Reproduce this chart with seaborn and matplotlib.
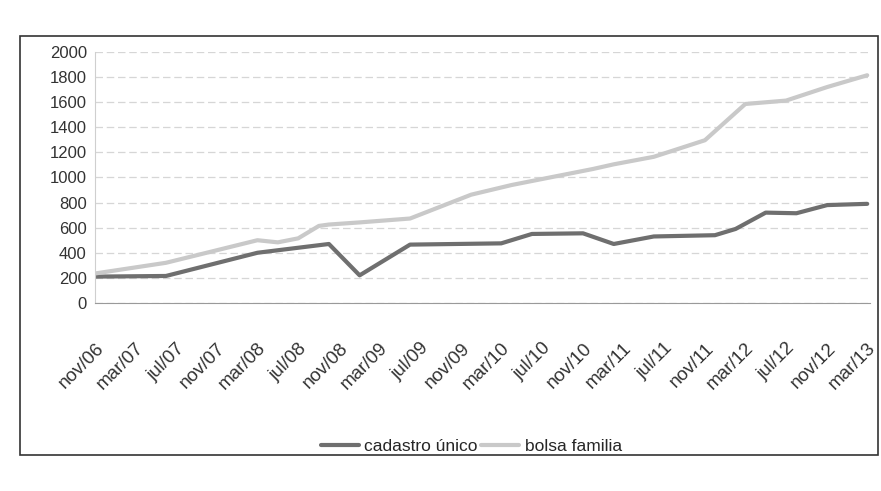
import pandas as pd
import matplotlib
matplotlib.use("Agg")
import matplotlib.pyplot as plt
from matplotlib.patches import Rectangle
import seaborn as sns


# DADOS (mes, valor)
############################################################################################
cadastro_meses = ["2006-11", "2007-06", "2008-03", "2008-07", "2008-10", "2009-01",
                  "2009-06", "2010-03", "2010-06", "2010-11", "2011-02", "2011-06",
                  "2011-12", "2012-02", "2012-05", "2012-08", "2012-11", "2013-03"]
cadastro_valores = [210, 215, 400, 440, 470, 220,
                    465, 475, 550, 555, 470, 530,
                    540, 590, 720, 715, 780, 790]

bolsa_meses = ["2006-11", "2007-06", "2008-03", "2008-05", "2008-07", "2008-09",
               "2008-10", "2009-01", "2009-06", "2009-12", "2010-04", "2010-12",
               "2011-02", "2011-06", "2011-11", "2012-03", "2012-07", "2012-11",
               "2013-03"]
bolsa_valores = [235, 320, 500, 483, 515, 614,
                 625, 642, 673, 863, 940, 1068,
                 1105, 1165, 1297, 1586, 1613, 1721,
                 1815]

rotulos_x = ["nov/06", "mar/07", "jul/07", "nov/07", "mar/08", "jul/08", "nov/08",
             "mar/09", "jul/09", "nov/09", "mar/10", "jul/10", "nov/10", "mar/11",
             "jul/11", "nov/11", "mar/12", "jul/12", "nov/12", "mar/13"]
valores_y = list(range(0, 2001, 200))

series = ["cadastro único", "bolsa familia"]
cores = {"cadastro único": "#6f6f6f", "bolsa familia": "#c9c9c9"}
############################################################################################

df = pd.concat([
    pd.DataFrame({"mes": pd.to_datetime(cadastro_meses), "valor": cadastro_valores,
                  "serie": series[0]}),
    pd.DataFrame({"mes": pd.to_datetime(bolsa_meses), "valor": bolsa_valores,
                  "serie": series[1]}),
])

sns.set_style("white")
plt.rcParams["font.family"] = ["Liberation Sans", "DejaVu Sans"]

fig = plt.figure(figsize=(8.81, 4.91), dpi=100)
ax = fig.add_axes([0.108, 0.383, 0.879, 0.511])

sns.lineplot(data=df, x="mes", y="valor", hue="serie", hue_order=series,
             palette=cores, linewidth=3, legend=False, ax=ax)

# grade e eixos
pos_x = pd.date_range("2006-11-01", "2013-03-01", freq="4MS")
ax.set_xticks(pos_x)
ax.set_xticklabels(rotulos_x, rotation=45, ha="right", rotation_mode="anchor",
                   fontsize=13.5, color="#333333")
ax.set_yticks(valores_y)
ax.set_yticklabels([str(v) for v in valores_y], fontsize=12, color="#333333")
ax.set_xlim(pd.Timestamp("2006-11-01"), pd.Timestamp("2013-03-08"))
ax.set_ylim(0, 2000)
ax.set_xlabel("")
ax.set_ylabel("")

ax.grid(axis="y", color="#d6d6d6", linewidth=0.9, linestyle=(0, (6, 3)))
ax.set_axisbelow(True)
for lado in ["top", "right"]:
    ax.spines[lado].set_visible(False)
ax.spines["left"].set_color("#cfcfcf")
ax.spines["bottom"].set_color("#9a9a9a")
ax.tick_params(axis="y", length=0, pad=6)
ax.tick_params(axis="x", direction="inout", length=5, color="#9a9a9a", pad=24)

# legenda embaixo
handles = [plt.Line2D([], [], color=cores[s], linewidth=3) for s in series]
ax.legend(handles, series, loc="center", bbox_to_anchor=(0.535, 0.09),
          bbox_transform=fig.transFigure, ncol=2, frameon=False, fontsize=12.5,
          handlelength=2.2, handletextpad=0.3, columnspacing=0.2)

# moldura do grafico
fig.patches.append(Rectangle((0.023, 0.073), 0.974, 0.854, transform=fig.transFigure,
                             fill=False, edgecolor="#333333", linewidth=1.2))

fig.savefig("out.png", dpi=100, facecolor="white")
